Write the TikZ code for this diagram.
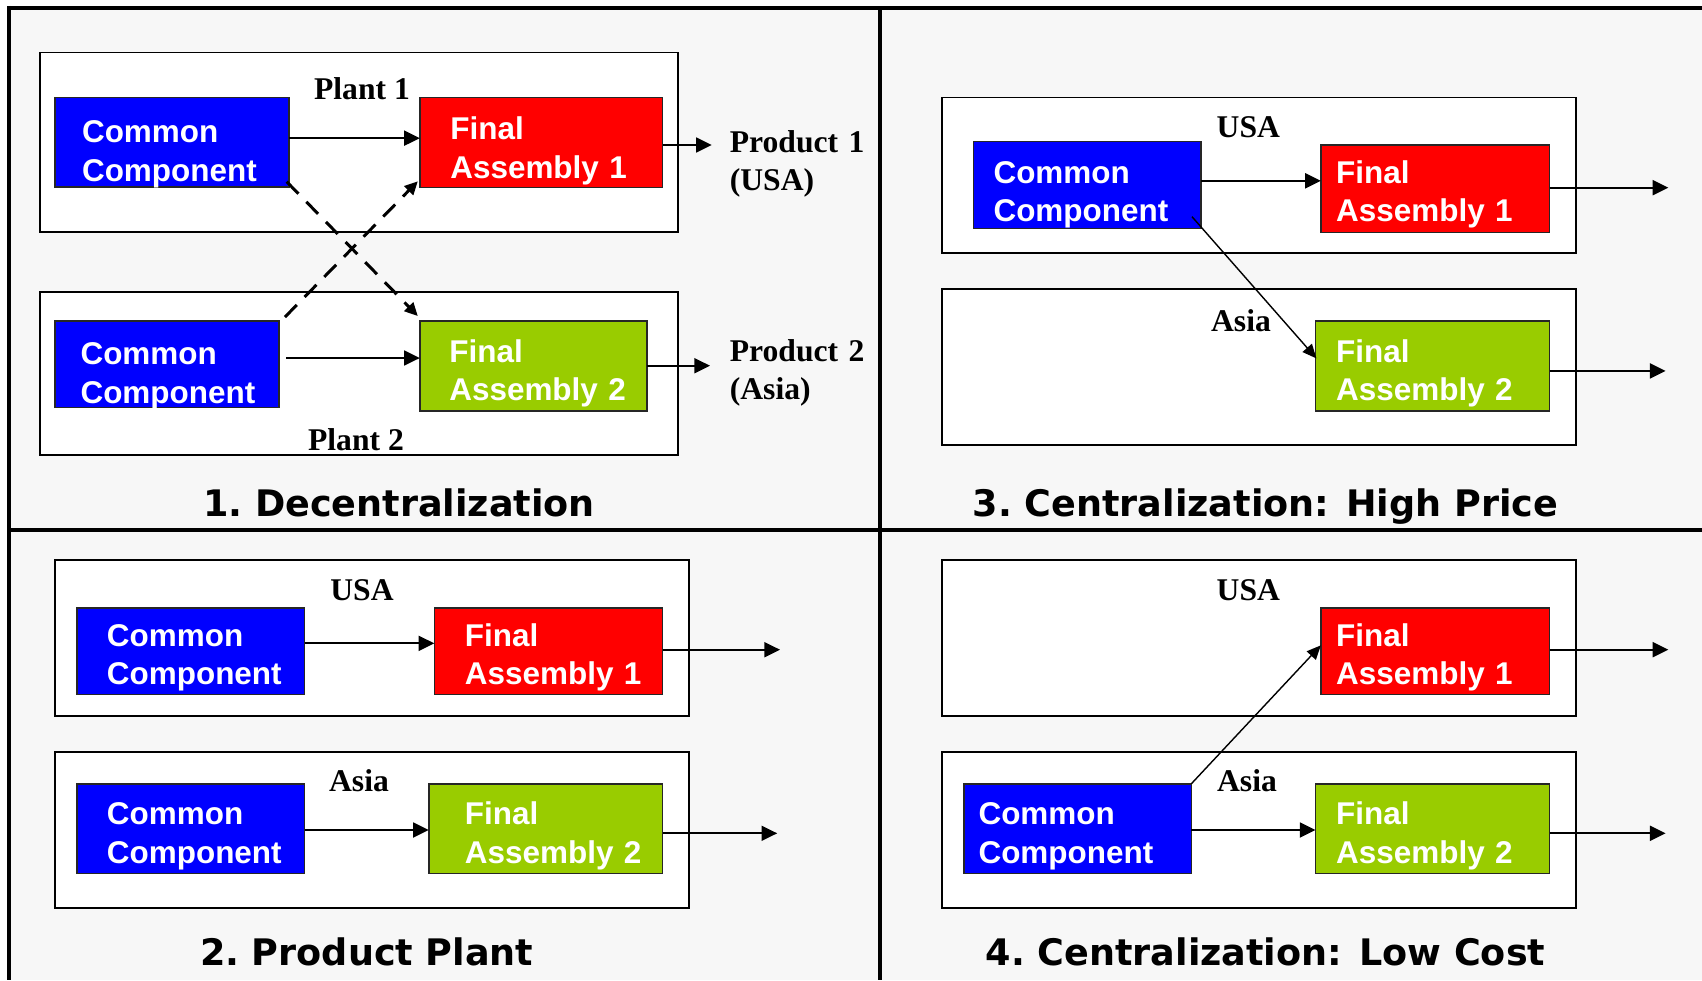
\documentclass[tikz,border=0pt]{standalone}
\usepackage{fontspec}
\newfontfamily\boxfont{Liberation Sans}
\newfontfamily\labfont{Liberation Serif}
\newfontfamily\titfont{DejaVu Sans}
\usetikzlibrary{arrows.meta,calc}
\definecolor{bgray}{HTML}{F7F7F7}
\definecolor{cblue}{HTML}{0000FF}
\definecolor{cred}{HTML}{FF0000}
\definecolor{cgreen}{HTML}{99CC00}
\begin{document}
\begin{tikzpicture}[x=0.02cm,y=-0.02cm,
  cbox/.style={draw=black!85, line width=0.9pt, inner sep=0pt, outer sep=0pt},
  ccbox/.style={cbox, fill=cblue},
  redbox/.style={cbox, fill=cred},
  grnbox/.style={cbox, fill=cgreen},
  boxtxt/.style={anchor=base west, inner sep=0pt, text width=5cm, align=left, text=white,
    font=\boxfont\bfseries\fontsize{17.9pt}{22pt}\selectfont},
  lab/.style={anchor=base, inner sep=0pt, font=\labfont\bfseries\fontsize{18pt}{21.6pt}\selectfont},
  prodlab/.style={anchor=base west, inner sep=0pt, text width=3cm, align=left,
    font=\labfont\bfseries\fontsize{18pt}{21.6pt}\selectfont},
  ttl/.style={anchor=base, inner sep=0pt, font=\titfont\bfseries\fontsize{20.8pt}{24pt}\selectfont},
  plant/.style={draw=black, line width=1.1pt, fill=white},
  frame/.style={draw=black, line width=2.2pt},
  arr/.style={line width=1.15pt, -{Triangle[length=8.9pt,width=8.5pt]}},
  diagarr/.style={line width=0.8pt, -{Triangle[length=8pt,width=7pt]}},
  dasharr/.style={line width=1.7pt, dash pattern=on 9.6pt off 6.4pt, -{Triangle[length=7.5pt,width=7pt]}}
]
\useasboundingbox (0,0) rectangle (1702,980);
\fill[white] (0,0) rectangle (1702,980);
\fill[bgray] (9.3,8) rectangle (1702,980);
% frame lines
\draw[frame] (7.3,8) -- (1702,8);
\draw[frame] (9.3,6) -- (9.3,980);
\draw[black, line width=2pt] (9.3,530) -- (1702,530);
\draw[frame] (880,8) -- (880,980);

% ---------- Panel 1 ----------
\draw[plant] (40,52.5) rectangle (678,232);
\draw[plant] (40,292) rectangle (678,455);
\node[ccbox, minimum width=4.68cm, minimum height=1.794cm] (cc1) at (172,142.15) {};
\node[redbox, minimum width=4.858cm, minimum height=1.8cm] (fa1) at (541.25,142.3) {};
\node[ccbox, minimum width=4.48cm, minimum height=1.728cm] (cc2) at (167,364.2) {};
\node[grnbox, minimum width=4.544cm, minimum height=1.796cm] (fa2) at (533.4,365.9) {};
\node[boxtxt] (cc1t) at (81.7,142.8) {Common\\Component};
\node[boxtxt] (fa1t) at (450,139.5) {Final\\Assembly 1};
\node[boxtxt] (cc2t) at (80.2,364.8) {Common\\Component};
\node[boxtxt] (fa2t) at (449,362.1) {Final\\Assembly 2};
\node[lab] (pl1) at (362,99.9) {Plant 1};
\node[lab] (pl2) at (356,450.4) {Plant 2};
\node[prodlab] (pr1) at (729.5,152.2) {Product 1\\(USA)};
\node[prodlab] (pr2) at (729.5,361.6) {Product 2\\(Asia)};
\coordinate (p1a) at ($(cc1.east)+(0,-4)$);
\draw[arr] (p1a) -- (p1a -| fa1.west);
\coordinate (p1o1) at (711.7,145);
\draw[arr] (p1o1 -| fa1.east) -- (p1o1);
\coordinate (p1b) at (286,358);
\draw[arr] (p1b) -- (p1b -| fa2.west);
\coordinate (p1o2) at (710,365.7);
\draw[arr] (p1o2 -| fa2.east) -- (p1o2);
\draw[dasharr] ($(cc1.south east)+(-2.3,-5.3)$) -- ($(fa2.north west)+(-2,-5)$);
\draw[dasharr] ($(cc2.north east)+(6,-4)$) -- ($(fa1.south west)+(-2,-6)$);
\node[ttl] (t1) at (399,516.7) {1.\kern-0.12em{} Decentralization};

% ---------- Panel 3 ----------
\draw[plant] (942.2,97.5) rectangle (1576,253);
\draw[plant] (942.2,289) rectangle (1576,445);
\node[ccbox, minimum width=4.554cm, minimum height=1.744cm] (cc3) at (1087.15,185.1) {};
\node[redbox, minimum width=4.576cm, minimum height=1.748cm] (fa31) at (1435.2,188.7) {};
\node[grnbox, minimum width=4.684cm, minimum height=1.796cm] (fa32) at (1432.5,365.9) {};
\node[boxtxt] (cc3t) at (993.2,183) {Common\\Component};
\node[boxtxt] (fa31t) at (1335.8,183) {Final\\Assembly 1};
\node[boxtxt] (fa32t) at (1335.8,362.1) {Final\\Assembly 2};
\node[lab] (usa3) at (1248.3,137.7) {USA};
\node[lab] (asia3) at (1241,331.7) {Asia};
\coordinate (p3a) at ($(cc3.east)+(0,-4.3)$);
\draw[arr] (p3a) -- (p3a -| fa31.west);
\coordinate (p3o1) at (1668.3,187.7);
\draw[arr] (p3o1 -| fa31.east) -- (p3o1);
\coordinate (p3o2) at (1665.6,370.9);
\draw[arr] (p3o2 -| fa32.east) -- (p3o2);
\draw[diagarr] ($(cc3.south east)+(-9,-12)$) -- ($(fa32.west)+(1,-7.5)$);
\node[ttl] (t3) at (1265.5,516.5) {3.\kern-0.12em{} Centralization: High Price};

% ---------- Panel 2 ----------
\draw[plant] (55,560) rectangle (689.2,715.7);
\draw[plant] (55,752) rectangle (689.2,907.6);
\node[ccbox, minimum width=4.556cm, minimum height=1.734cm] (cc21) at (190.8,651.35) {};
\node[redbox, minimum width=4.568cm, minimum height=1.734cm] (fa21) at (548.5,651.35) {};
\node[ccbox, minimum width=4.556cm, minimum height=1.8cm] (cc22) at (190.8,828.7) {};
\node[grnbox, minimum width=4.68cm, minimum height=1.8cm] (fa22) at (545.7,828.7) {};
\node[boxtxt] (cc21t) at (106.6,646.2) {Common\\Component};
\node[boxtxt] (fa21t) at (464.6,646.2) {Final\\Assembly 1};
\node[boxtxt] (cc22t) at (106.6,824.8) {Common\\Component};
\node[boxtxt] (fa22t) at (464.6,824.8) {Final\\Assembly 2};
\node[lab] (usa2) at (362,600.7) {USA};
\node[lab] (asia2) at (359,791.7) {Asia};
\coordinate (p2a) at ($(cc21.east)+(0,-8)$);
\draw[arr] (p2a) -- (p2a -| fa21.west);
\coordinate (p2o1) at (780,649.7);
\draw[arr] (p2o1 -| fa21.east) -- (p2o1);
\coordinate (p2b) at ($(cc22.east)+(0,1.3)$);
\draw[arr] (p2b) -- (p2b -| fa22.west);
\coordinate (p2o2) at (777.2,833.3);
\draw[arr] (p2o2 -| fa22.east) -- (p2o2);
\node[ttl] (t2) at (366.7,965) {2.\kern-0.12em{} Product Plant};

% ---------- Panel 4 ----------
\draw[plant] (942.2,560) rectangle (1576,716);
\draw[plant] (942.2,752) rectangle (1576,907.7);
\node[redbox, minimum width=4.576cm, minimum height=1.734cm] (fa41) at (1435.2,651.35) {};
\node[ccbox, minimum width=4.544cm, minimum height=1.8cm] (cc4) at (1077.8,828.7) {};
\node[grnbox, minimum width=4.684cm, minimum height=1.8cm] (fa42) at (1432.5,828.7) {};
\node[boxtxt] (fa41t) at (1335.8,646.2) {Final\\Assembly 1};
\node[boxtxt] (cc4t) at (978.2,824.8) {Common\\Component};
\node[boxtxt] (fa42t) at (1335.8,824.8) {Final\\Assembly 2};
\node[lab] (usa4) at (1248.3,600.7) {USA};
\node[lab] (asia4) at (1247,791.7) {Asia};
\coordinate (p4b) at ($(cc4.east)+(0,1.3)$);
\draw[arr] (p4b) -- (p4b -| fa42.west);
\coordinate (p4o1) at (1668.3,649.7);
\draw[arr] (p4o1 -| fa41.east) -- (p4o1);
\coordinate (p4o2) at (1665.6,833.3);
\draw[arr] (p4o2 -| fa42.east) -- (p4o2);
\draw[diagarr] (cc4.north east) -- ($(fa41.west)+(0,-6)$);
\node[ttl] (t4) at (1265.5,965) {4.\kern-0.12em{} Centralization: Low Cost};
\end{tikzpicture}
\end{document}
